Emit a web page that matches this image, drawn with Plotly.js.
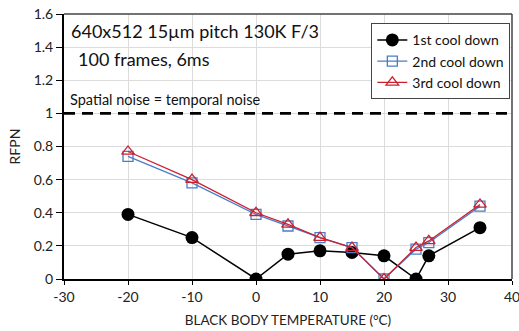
<!DOCTYPE html>
<html>
<head>
<meta charset="utf-8">
<script src="https://cdn.plot.ly/plotly-3.0.1.min.js"></script>
<style>html,body{margin:0;padding:0;background:#fff;}#chart{width:519px;height:331px;}</style>
</head>
<body>
<div id="chart"></div>
<script>
var temps = [-20, -10, 0, 5, 10, 15, 20, 25, 27, 35];
var cool1 = [0.39, 0.25, 0.0, 0.15, 0.17, 0.16, 0.14, 0.0, 0.14, 0.31];
var cool2 = [0.74, 0.58, 0.39, 0.32, 0.25, 0.19, 0.0, 0.18, 0.22, 0.44];
var cool3 = [0.77, 0.60, 0.40, 0.33, 0.25, 0.19, 0.0, 0.19, 0.23, 0.45];
var seriesNames = ['1st cool down', '2nd cool down', '3rd cool down'];
var thresholdX = [-30, 40];
var thresholdY = [1, 1];
var xTicks = [-30, -20, -10, 0, 10, 20, 30, 40];
var yTicks = [0, 0.2, 0.4, 0.6, 0.8, 1, 1.2, 1.4, 1.6];
var yTickText = ['0', '0.2', '0.4', '0.6', '0.8', '1', '1.2', '1.4', '1.6'];

var F = 'Lato, "Open Sans", sans-serif';
var traces = [
  {x: thresholdX, y: thresholdY, mode: 'lines', showlegend: false, hoverinfo: 'skip',
   line: {color: '#000', width: 2.8, dash: '11px,7px'}},
  {x: temps, y: cool1, name: seriesNames[0], mode: 'lines+markers',
   line: {color: '#000', width: 1.5}, marker: {symbol: 'circle', size: 13, color: '#000'}},
  {x: temps, y: cool2, name: seriesNames[1], mode: 'lines+markers',
   line: {color: '#4a7cc9', width: 1.3}, marker: {symbol: 'square-open', size: 10, color: '#4a7cc9', line: {width: 1.3}}},
  {x: temps, y: cool3, name: seriesNames[2], mode: 'lines+markers',
   line: {color: '#cc1f2e', width: 1.3}, marker: {symbol: 'triangle-up-open', size: 11, color: '#cc1f2e', line: {width: 1.3}}}
];

var layout = {
  width: 519, height: 331,
  margin: {l: 64, r: 7, t: 14, b: 52},
  paper_bgcolor: '#fff', plot_bgcolor: '#fff',
  font: {family: F, color: '#222', size: 13},
  showlegend: true,
  xaxis: {range: [-30, 40], tickvals: xTicks, ticktext: xTicks.map(String),
    automargin: false, ticklabeloverflow: 'allow',
    showgrid: true, gridcolor: '#dcdcdc', gridwidth: 1, zeroline: false,
    showline: true, linecolor: '#000', linewidth: 2, mirror: false,
    ticks: 'outside', ticklen: 4, tickcolor: '#000',
    tickfont: {family: F, size: 14, color: '#222'},
    title: {text: 'BLACK BODY TEMPERATURE (°C)', font: {family: F, size: 13.5, color: '#222'}, standoff: 12}},
  yaxis: {range: [0, 1.6], tickvals: yTicks, ticktext: yTickText,
    automargin: false,
    showgrid: true, gridcolor: '#dcdcdc', gridwidth: 1, zeroline: false,
    showline: true, linecolor: '#000', linewidth: 2,
    ticks: 'outside', ticklen: 6, tickcolor: '#000',
    tickfont: {family: F, size: 14, color: '#222'},
    title: {text: 'RFPN', font: {family: F, size: 14, color: '#222'}, standoff: 10}},
  shapes: [
    {type: 'line', xref: 'paper', yref: 'paper', x0: 0, x1: 1, y0: 1, y1: 1, line: {color: '#444', width: 1.5}},
    {type: 'line', xref: 'paper', yref: 'paper', x0: 1, x1: 1, y0: 0, y1: 1, line: {color: '#444', width: 1.5}}
  ],
  legend: {x: 0.686, y: 0.965, xanchor: 'left', yanchor: 'top',
    bgcolor: '#fff', bordercolor: '#444', borderwidth: 1,
    font: {family: F, size: 14, color: '#111'}, tracegroupgap: 0, itemwidth: 30},
  annotations: [
    {xref: 'paper', yref: 'paper', x: 0.012, y: 0.985, xanchor: 'left', yanchor: 'top', showarrow: false,
     text: '640x512 15µm pitch 130K F/3', font: {family: F, size: 18, color: '#111'}},
    {xref: 'paper', yref: 'paper', x: 0.027, y: 0.88, xanchor: 'left', yanchor: 'top', showarrow: false,
     text: '100 frames, 6ms', font: {family: F, size: 18, color: '#111'}},
    {xref: 'x', yref: 'y', x: -29.3, y: 1.02, xanchor: 'left', yanchor: 'bottom', showarrow: false,
     text: 'Spatial noise = temporal noise', font: {family: F, size: 14.5, color: '#111'}}
  ]
};

Plotly.newPlot('chart', traces, layout, {displayModeBar: false, staticPlot: true});
</script>
</body>
</html>
